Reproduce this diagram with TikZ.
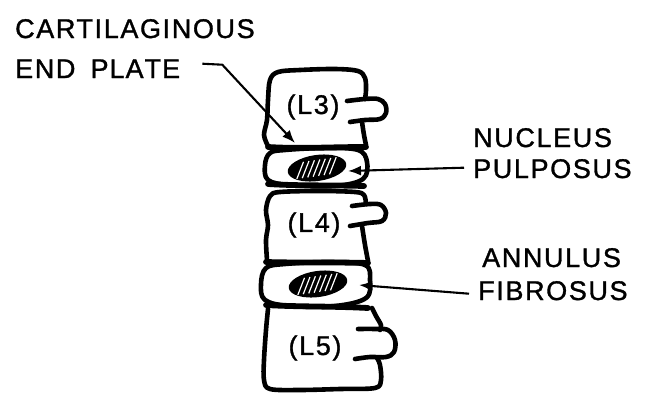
\documentclass[tikz,border=0pt]{standalone}
\usepackage{fontspec}
\setmainfont{Liberation Sans}[LetterSpace=6,FakeBold=1.2]
\usetikzlibrary{arrows.meta,shapes.geometric}
\begin{document}
\begin{tikzpicture}[x=1pt,y=-1pt,
  outline/.style={line width=4.6pt,line join=round,line cap=round},
  plate/.style={line width=5.8pt,line cap=round},
  lead/.style={line width=2.1pt,line join=round,-{Latex[length=13pt,width=10pt]}},
  caption/.style={font=\fontsize{27}{30}\selectfont,anchor=base west,inner sep=0pt},
  vname/.style={font=\fontsize{27}{29}\selectfont,inner sep=0pt},
  nucleus/.style={ellipse,fill=black,minimum width=59pt,minimum height=26pt,inner sep=0pt,rotate=8,
    path picture={\foreach \k in {-3,...,3}
      \draw[white,line width=1.2pt]
        ([xshift=\k*5.5pt-5pt,yshift=-8pt]path picture bounding box.center) -- ++(9pt,16pt);}},
]
\useasboundingbox (0,0) rectangle (647,396);

% ---- L3 vertebra ----
\draw[outline] plot[smooth,tension=0.55] coordinates
  {(268,146) (264,135) (267,120) (268,100) (270,80) (278,72) (300,70) (335,69) (358,71) (365,78) (366,90) (365,99)};
\draw[outline] plot[smooth,tension=0.6] coordinates
  {(347,101) (365,99) (378,99) (385,104) (386,113) (380,119) (365,120) (350,122)};
\draw[outline] plot[smooth] coordinates {(362,122) (364,135) (366,145)};
\node[vname] (l3) at (313,107) {(L3)};

% ---- disc between L3 and L4 ----
\draw[outline] plot[smooth cycle,tension=0.6] coordinates
  {(285,150) (325,148) (358,150) (367,162) (363,179) (335,186) (290,185) (268,180) (265,165) (270,153)};
\draw[plate] (268,147) .. controls (300,149) and (330,147) .. (366,147);
\draw[plate] (268,184) .. controls (300,186) and (330,185) .. (364,186);
\node[nucleus] (np1) at (317,168) {};

% ---- L4 vertebra ----
\draw[outline] plot[smooth,tension=0.55] coordinates
  {(267,260) (266,240) (268,225) (266,210) (270,196) (280,192) (320,191) (355,192) (364,195) (366,204)};
\draw[outline] plot[smooth,tension=0.6] coordinates
  {(352,206) (370,204) (381,205) (386,213) (382,221) (368,223) (350,226)};
\draw[outline] plot[smooth] coordinates {(362,226) (365,245) (368,261)};
\node[vname] (l4) at (314,225) {(L4)};

% ---- disc between L4 and L5 ----
\draw[outline] plot[smooth cycle,tension=0.6] coordinates
  {(285,264) (330,262) (365,265) (370,280) (366,298) (335,306) (290,306) (265,300) (261,284) (266,268)};
\draw[plate] (266,262) .. controls (300,263) and (330,262) .. (368,263);
\draw[plate] (266,305) .. controls (300,307) and (330,306) .. (368,308);
\node[nucleus] (np2) at (318,284) {};

% ---- L5 vertebra ----
\draw[outline] plot[smooth,tension=0.55] coordinates
  {(268,309) (266,330) (264,360) (264,380) (270,389) (300,390) (340,389) (375,388) (381,380) (380,365) (377,358)};
\draw[outline] plot[smooth,tension=0.6] coordinates
  {(358,329) (375,329) (388,330) (395,340) (394,352) (386,357) (370,357) (355,359)};
\draw[outline] plot[smooth] coordinates {(372,308) (376,316) (381,325) (380,330)};
\node[vname] (l5) at (315,348) {(L5)};

% ---- captions ----
\node[caption] (cart) at (15,38) {CARTILAGINOUS};
\node[caption] (endp) at (15,78) {END\hspace{6pt} P\hspace{1pt}L\hspace{1pt}A\hspace{1pt}T\hspace{1pt}E};
\node[caption] (nuc)  at (473,147) {NUCLEUS};
\node[caption] (pulp) at (473,178) {PULPOSUS};
\node[caption] (ann)  at (482,267) {ANNULUS};
\node[caption] (fib)  at (478,300) {FIBROSUS};

% ---- leader lines ----
\coordinate (epTip) at (295,143);
\coordinate (npTip) at (348,171);
\coordinate (afTip) at (359,285);
\draw[lead] ([xshift=22pt,yshift=5pt]endp.east) -- ++(20,1) -- (epTip);
\draw[lead] ([xshift=-9pt,yshift=1pt]pulp.west) -- (npTip);
\draw[lead] ([xshift=-9pt,yshift=-3pt]fib.west) -- (afTip);
\end{tikzpicture}
\end{document}
